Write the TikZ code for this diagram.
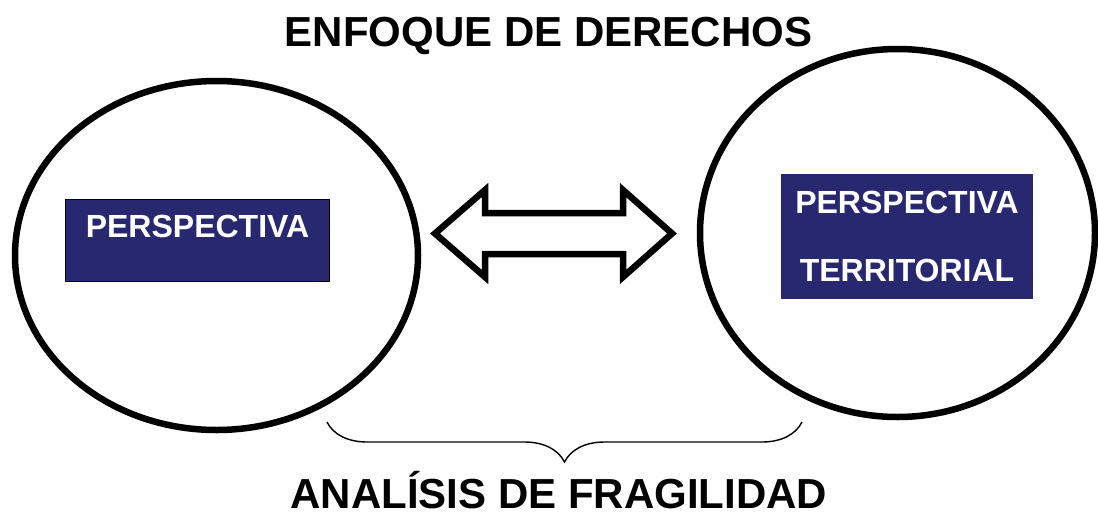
\documentclass[tikz,border=0pt]{standalone}
\usepackage{fontspec}
\setmainfont{Liberation Sans}
\usetikzlibrary{shapes.geometric,decorations.pathreplacing,positioning}
\definecolor{navybox}{HTML}{27286F}

\begin{document}
\begin{tikzpicture}[x=1pt, y=-1pt,
  ring/.style={ellipse, draw, line width=6.5pt, inner sep=0pt},
  headline/.style={font=\fontsize{42}{50}\selectfont\bfseries, anchor=base},
  bluebox/.style={fill=navybox, text=white, inner sep=0pt,
    font=\fontsize{32}{38}\selectfont\bfseries},
  fatarrow/.style={draw, line width=6.5pt, line join=miter},
  bracket/.style={draw, line width=1.4pt,
    decorate, decoration={brace, mirror, amplitude=40pt}}]
  \useasboundingbox (0,0) rectangle (1098,515);

  % titles
  \node[headline] (enfoque) at (548.5,46) {ENFOQUE DE DERECHOS};
  \node[headline] (analisis) at (559,508) {ANALÍSIS DE FRAGILIDAD};

  % the two circles
  \node[ring, minimum width=403pt, minimum height=349pt] (leftring) at (216.5,255.5) {};
  \node[ring, minimum width=395pt, minimum height=368pt] (rightring) at (897.5,233) {};

  % boxes inside
  \node[bluebox, draw=black, line width=1pt, minimum width=264pt,
    text height=38pt, text depth=44pt, anchor=north west] (leftbox) at (65,199) {PERSPECTIVA};
  \node[bluebox, minimum width=252pt, minimum height=125pt, align=center]
    (rightbox) at (907,236.5) {PERSPECTIVA\\[30pt] TERRITORIAL};

  % double arrow between them
  \coordinate (mid) at (553.5,233.5);
  \draw[fatarrow] ([xshift=-118.5pt]mid) -- ++(50,-43.5) -- ++(0,23) -- ++(138,0)
    -- ++(0,-23) -- ++(49,43.5) -- ++(-49,43.5) -- ++(0,-23) -- ++(-138,0)
    -- ++(0,23) -- cycle;

  % brace underneath
  \coordinate (braceleft) at (327,422);
  \coordinate (braceright) at (802,422);
  \draw[bracket] (braceleft) -- (braceright);
\end{tikzpicture}
\end{document}
